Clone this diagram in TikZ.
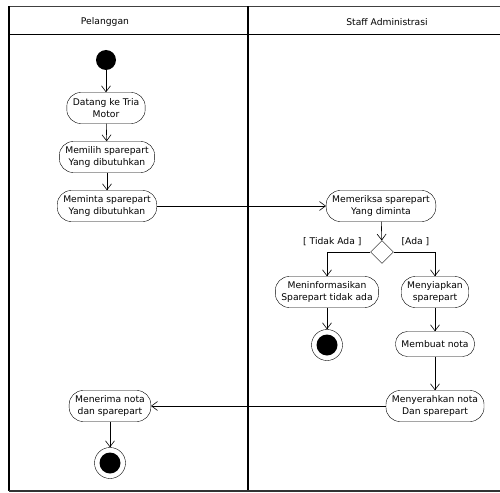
\documentclass[tikz,border=0pt]{standalone}
\usepackage{fontspec}
\setmainfont{DejaVu Sans}
\usepackage{tikz}
\usetikzlibrary{arrows.meta,positioning,shapes.geometric}

\tikzset{
  aksi/.style={draw,rounded corners=14pt,align=center,inner xsep=6pt,inner ysep=2pt,minimum height=31pt},
  awal/.style={circle,fill=black,minimum size=20pt,inner sep=0pt},
  akhir/.style={circle,draw,minimum size=31pt,inner sep=0pt,path picture={\fill[black] (path picture bounding box.center) circle (10.5pt);}},
  pilihan/.style={diamond,draw,minimum size=23pt,inner sep=0pt},
  panah/.style={-{Straight Barb[length=6pt,width=9pt]},line width=0.6pt},
  lajur/.style={line width=1.6pt}
}

\begin{document}
\begin{tikzpicture}[x=1pt,y=-1pt,font=\fontsize{9.2}{12.5}\selectfont]
\useasboundingbox (0,0) rectangle (500,492);
% lajur
\draw[lajur,black!75] (9,6.5)--(500,6.5);
\draw[lajur] (9,34.5)--(500,34.5);
\draw[lajur] (9,6.5)--(9,491);
\draw[lajur] (248,6.5)--(248,491);
\draw[lajur,black!80] (9,491)--(500,491);
\node (hpel) at (105,22){Pelanggan};
\node (hadm) at (387,22){Staff Administrasi};
% Pelanggan
\node[awal] (mulai) at (106,60){};
\node[aksi] (datang) at (106,108){Datang ke Tria\\Motor};
\node[aksi] (pilih) at (107,157){Memilih sparepart\\Yang dibutuhkan};
\node[aksi] (minta) at (107,206){Meminta sparepart\\Yang dibutuhkan};
\node[aksi] (terima) at (110,406){Menerima nota\\dan sparepart};
\node[akhir] (selesai) at (110,463){};
% Staff Administrasi
\node[aksi] (periksa) at (381,206){Memeriksa sparepart\\Yang diminta};
\node[pilihan] (cek) at (382,252){};
\node[anchor=east] (ltidak) at (365,242){[ Tidak Ada ]};
\node[anchor=west] (lada) at (398,242){[Ada ]};
\node[aksi] (info) at (327,292){Meninformasikan\\Sparepart tidak ada};
\node[akhir] (stop) at (327,345){};
\node[aksi] (siap) at (435,292){Menyiapkan\\sparepart};
\node[aksi,minimum height=25pt,rounded corners=12pt] (nota) at (435,344){Membuat nota};
\node[aksi] (serah) at (435,406){Menyerahkan nota\\Dan sparepart};
% alur
\draw[panah] (mulai)--(datang);
\draw[panah] (datang)--(pilih);
\draw[panah] (pilih)--(minta);
\draw[panah] (minta)--(periksa);
\draw[panah] (periksa)--(cek);
\draw[panah] (cek.west)-|(info);
\draw[panah] (cek.east)-|(siap);
\draw[panah] (info)--(stop);
\draw[panah] (siap)--(nota);
\draw[panah] (nota)--(serah);
\draw[panah] (serah)--(terima);
\draw[panah] (terima)--(selesai);
\end{tikzpicture}
\end{document}
